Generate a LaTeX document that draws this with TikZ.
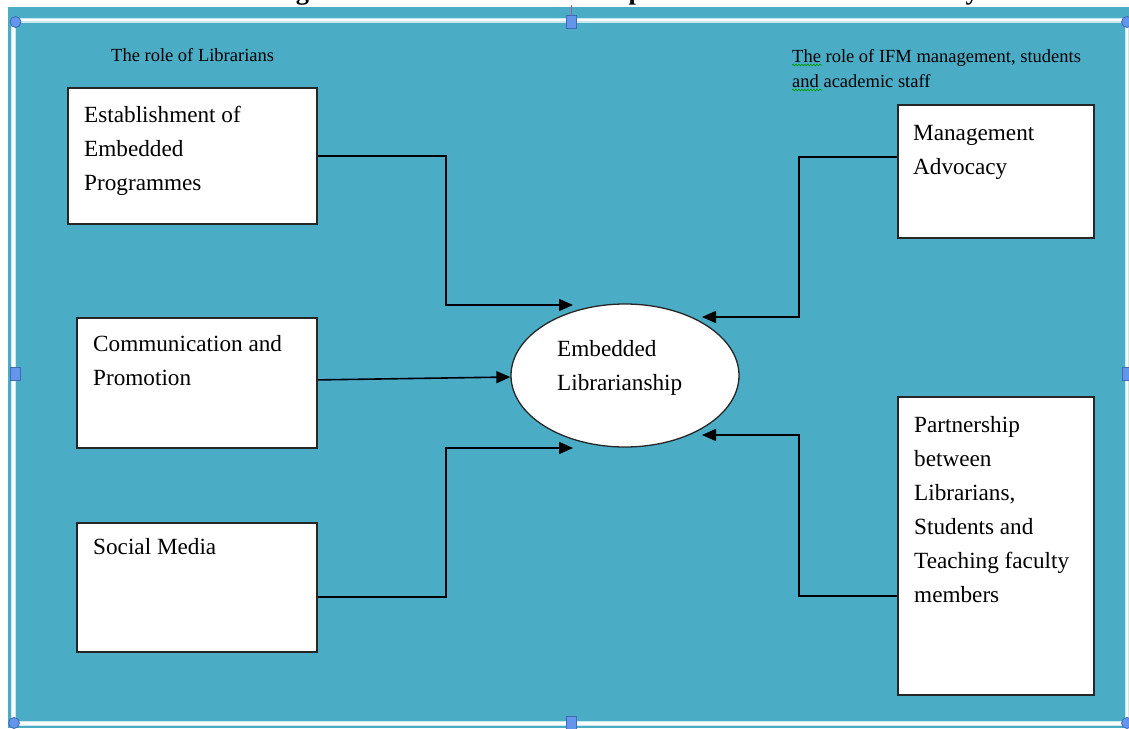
\documentclass[tikz,border=0pt]{standalone}
\usepackage{fontspec}
\setmainfont{Liberation Serif}
\usetikzlibrary{arrows.meta,calc,shapes.geometric,decorations.pathmorphing}
\definecolor{bgblue}{RGB}{75,172,198}
\definecolor{hfill}{RGB}{100,149,237}
\definecolor{hdraw}{RGB}{65,105,180}
\definecolor{halo}{RGB}{200,232,240}
\definecolor{rotline}{RGB}{190,80,150}
\begin{document}
\begin{tikzpicture}[x=1pt,y=-1pt,
 box/.style={draw=black!85, line width=1.8pt, fill=white, inner sep=0pt, anchor=north west},
 txt/.style={font=\fontsize{23.2}{34}\selectfont, align=left, inner sep=0pt, anchor=base west},
 head/.style={font=\fontsize{18.5}{25}\selectfont, align=left, inner sep=0pt, anchor=base west},
 arr/.style={line width=1.6pt, -{Triangle[length=14pt,width=12pt]}},
 hsq/.style={draw=hdraw, fill=hfill, line width=0.8pt, minimum width=10pt, minimum height=13pt, inner sep=0pt},
 hci/.style={circle, draw=hdraw, fill=hfill, line width=0.8pt, minimum size=11pt, inner sep=0pt},
 squig/.style={draw=green!60!black, line width=0.7pt, decorate, decoration={snake, segment length=3pt, amplitude=0.8pt}}]
\useasboundingbox (0,0) rectangle (1129,728);
\fill[white] (0,0) rectangle (1129,728);
\fill[bgblue] (8,7) rectangle (1129,728);
% clipped title
\begin{scope}
\clip (0,0) rectangle (1129,7);
\node[font=\bfseries\fontsize{26.5}{30}\selectfont, inner sep=0pt, anchor=base west] (title) at (272,-1) {Fig. 1: Embedded Librarianship Framework for IFM Library};
\end{scope}
% selection frame
\draw[halo, line width=5pt] (13.5,20) rectangle (1127,723.5);
\draw[white, line width=2.5pt] (13.5,20) rectangle (1127,723.5);
\draw[rotline, line width=1pt] (571,5) -- (571,16);
% headings
\node[head] (hl) at (111,61) {The role of Librarians};
\node[head] (hr) at (792,87) {The role of IFM management, students\\and academic staff};
\draw[squig] (792,65) -- (822,65);
\draw[squig] (792,90) -- (822,90);
% boxes
\node[box, minimum width=249pt, minimum height=136pt] (b1) at (67,87) {};
\node[txt] (t1) at (84,190) {Establishment of\\Embedded\\Programmes};
\node[box, minimum width=240pt, minimum height=130pt] (b2) at (76,317) {};
\node[txt] (t2) at (93,385) {Communication and\\Promotion};
\node[box, minimum width=240pt, minimum height=129pt] (b3) at (76,522) {};
\node[txt] (t3) at (93,554) {Social Media};
\node[box, minimum width=196pt, minimum height=133pt] (b4) at (897,104) {};
\node[txt] (t4) at (913,174) {Management\\Advocacy};
\node[box, minimum width=196pt, minimum height=298pt] (b5) at (897,396) {};
\node[txt] (t5) at (914,602) {Partnership\\between\\Librarians,\\Students and\\Teaching faculty\\members};
% ellipse
\node[ellipse, draw=black!85, line width=1.3pt, fill=white, minimum width=228pt, minimum height=143pt, inner sep=0pt] (el) at (625,375.5) {};
\node[txt] (te) at (557,390) {Embedded\\Librarianship};
% arrow targets
\coordinate (p1) at ($(el.center)+(-52,-70.5)$);
\coordinate (p2) at ($(el.center)+(-52,72.5)$);
\coordinate (p3) at ($(el.center)+(77,-58.5)$);
\coordinate (p4) at ($(el.center)+(77,59.5)$);
\draw[arr] (b1.east) -- ++(128,0) |- (p1);
\draw[arr] ([yshift=3pt]b2.east) -- ([yshift=-1.5pt]el.west);
\draw[arr] ([yshift=-9.5pt]b3.east) -- ++(128,0) |- (p2);
\draw[arr] ([yshift=14.5pt]b4.west) -- ++(-98,0) |- (p3);
\draw[arr] ([yshift=-50pt]b5.west) -- ++(-98,0) |- (p4);
% handles
\node[hci] (hc1) at (15.5,22) {};
\node[hci] (hc2) at (1127,22) {};
\node[hci] (hc3) at (14,723) {};
\node[hci] (hc4) at (1127,723) {};
\node[hsq] (hs1) at (571,22) {};
\node[hsq] (hs2) at (571,722.5) {};
\node[hsq] (hs3) at (15.5,374) {};
\node[hsq] (hs4) at (1127,374) {};
\end{tikzpicture}
\end{document}
